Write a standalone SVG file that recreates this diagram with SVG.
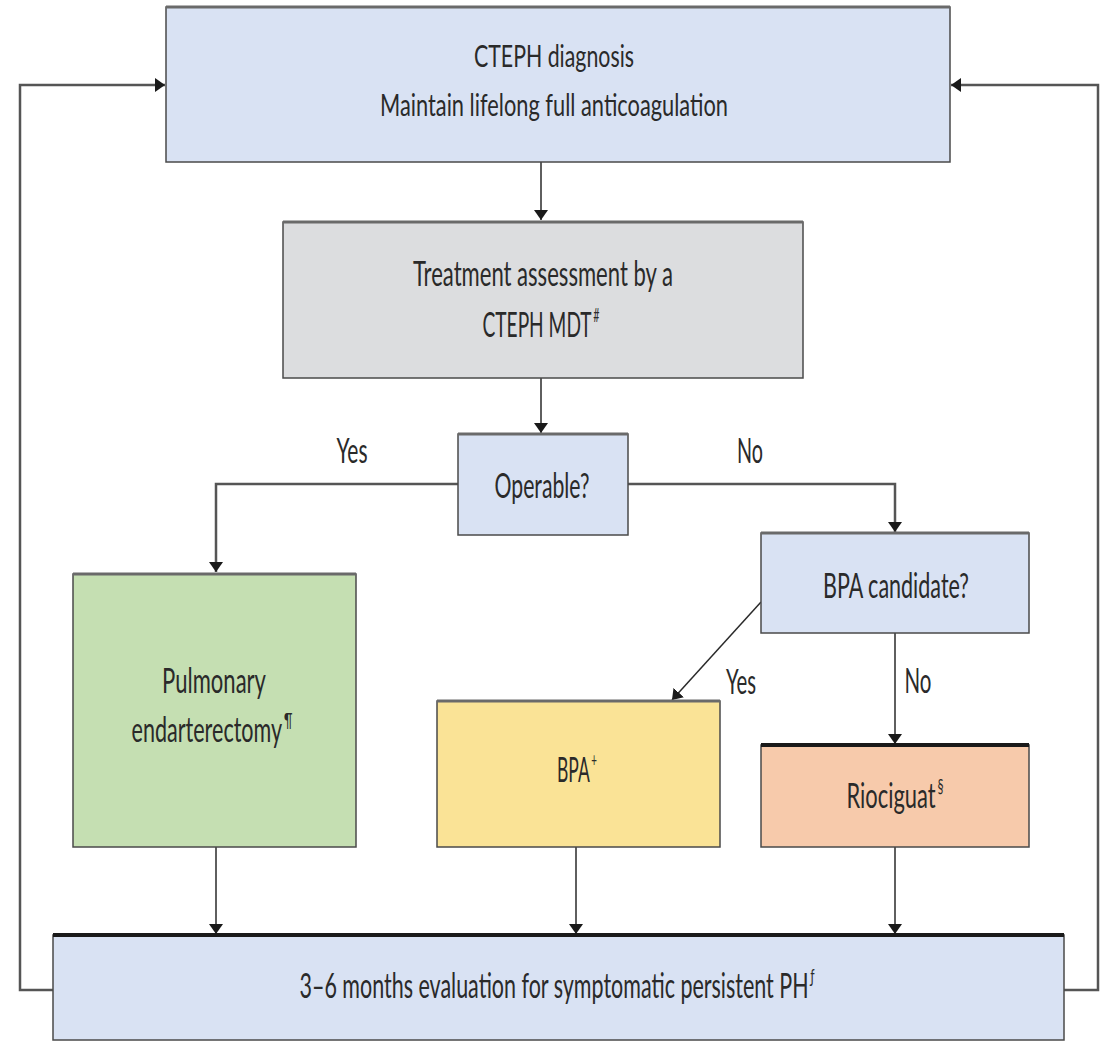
<svg xmlns="http://www.w3.org/2000/svg" width="1106" height="1043" viewBox="0 0 1106 1043">
  <defs>
    <marker id="arrow" viewBox="0 0 10 14" refX="10" refY="7" markerWidth="10" markerHeight="14" markerUnits="userSpaceOnUse" orient="auto">
      <path d="M0,0 L10,7 L0,14 Z" fill="#1a1a1a"/>
    </marker>
    <style>
      .box { stroke: #4a4a4a; stroke-width: 1.5; }
      .blue { fill: #d9e2f3; }
      .grey { fill: #dcdddf; }
      .green { fill: #c5dfb2; }
      .yellow { fill: #fae396; }
      .salmon { fill: #f7caab; }
      .topline { stroke: #6a6a6a; stroke-width: 3; }
      .topdark { stroke: #1a1a1a; stroke-width: 4; }
      .lbl { font-family: Lato, "Open Sans", "Liberation Sans", sans-serif; font-size: 34px; fill: #2a2a2a; text-anchor: middle; }
      .sm { font-size: 31px; }
      .sup { font-size: 19px; }
      .conn { fill: none; stroke: #2a2a2a; stroke-width: 1.5; }
      .thick { stroke: #555; stroke-width: 2.5; }
    </style>
  </defs>

  <rect width="1106" height="1043" fill="#ffffff"/>

  <!-- connectors -->
  <g id="connectors">
    <line class="conn" x1="541" y1="162" x2="541" y2="220" marker-end="url(#arrow)"/>
    <line class="conn" x1="541" y1="378" x2="541" y2="433" marker-end="url(#arrow)"/>
    <polyline class="conn thick" points="458,484 216,484 216,572" marker-end="url(#arrow)"/>
    <polyline class="conn thick" points="628,484 895,484 895,532" marker-end="url(#arrow)"/>
    <line class="conn" x1="761" y1="602" x2="672" y2="700" marker-end="url(#arrow)"/>
    <line class="conn" x1="895" y1="633" x2="895" y2="744" marker-end="url(#arrow)"/>
    <line class="conn" x1="216" y1="847" x2="216" y2="934" marker-end="url(#arrow)"/>
    <line class="conn" x1="576" y1="847" x2="576" y2="934" marker-end="url(#arrow)"/>
    <line class="conn" x1="895" y1="847" x2="895" y2="934" marker-end="url(#arrow)"/>
    <polyline class="conn thick" points="53,990 20,990 20,85 165,85" marker-end="url(#arrow)"/>
    <polyline class="conn thick" points="1064,990 1098,990 1098,85 951,85" marker-end="url(#arrow)"/>
    <!-- branch labels -->
    <text class="lbl" x="352" y="463" textLength="31" lengthAdjust="spacingAndGlyphs">Yes</text>
    <text class="lbl" x="750" y="463" textLength="26" lengthAdjust="spacingAndGlyphs">No</text>
    <text class="lbl" x="741" y="694" textLength="30" lengthAdjust="spacingAndGlyphs">Yes</text>
    <text class="lbl" x="918" y="693" textLength="27" lengthAdjust="spacingAndGlyphs">No</text>
  </g>

  <!-- nodes -->
  <g id="diagnosis">
    <rect class="box blue" x="166" y="7" width="784" height="155"/>
    <line class="topline" x1="166" y1="7" x2="950" y2="7"/>
    <text class="lbl sm" x="554" y="67" textLength="160" lengthAdjust="spacingAndGlyphs">CTEPH diagnosis</text>
    <text class="lbl sm" x="554" y="116" textLength="348" lengthAdjust="spacingAndGlyphs">Maintain lifelong full anticoagulation</text>
  </g>

  <g id="assessment">
    <rect class="box grey" x="283" y="222" width="520" height="156"/>
    <line class="topline" x1="283" y1="222" x2="803" y2="222"/>
    <text class="lbl" x="543" y="286" textLength="260" lengthAdjust="spacingAndGlyphs">Treatment assessment by a</text>
    <text class="lbl" x="541" y="337" textLength="117" lengthAdjust="spacingAndGlyphs">CTEPH MDT<tspan class="sup" dx="3" dy="-15">#</tspan></text>
  </g>

  <g id="operable">
    <rect class="box blue" x="458" y="434" width="170" height="101"/>
    <line class="topline" x1="458" y1="434" x2="628" y2="434"/>
    <text class="lbl" x="542" y="498" textLength="95" lengthAdjust="spacingAndGlyphs">Operable?</text>
  </g>

  <g id="bpa-candidate">
    <rect class="box blue" x="761" y="533" width="268" height="100"/>
    <line class="topline" x1="761" y1="533" x2="1029" y2="533"/>
    <text class="lbl" x="896" y="598" textLength="146" lengthAdjust="spacingAndGlyphs">BPA candidate?</text>
  </g>

  <g id="pea">
    <rect class="box green" x="73" y="574" width="283" height="273"/>
    <line class="topline" x1="73" y1="574" x2="356" y2="574"/>
    <text class="lbl" x="214" y="693" textLength="104" lengthAdjust="spacingAndGlyphs">Pulmonary</text>
    <text class="lbl" x="212" y="742" textLength="161" lengthAdjust="spacingAndGlyphs">endarterectomy<tspan class="sup" dx="3" dy="-15">¶</tspan></text>
  </g>

  <g id="bpa">
    <rect class="box yellow" x="437" y="701" width="283" height="146"/>
    <line class="topline" x1="437" y1="701" x2="720" y2="701"/>
    <text class="lbl" x="577" y="782" textLength="40" lengthAdjust="spacingAndGlyphs">BPA<tspan class="sup" dx="3" dy="-15">+</tspan></text>
  </g>

  <g id="riociguat">
    <rect class="box salmon" x="761" y="745" width="268" height="102"/>
    <line class="topdark" x1="761" y1="745" x2="1029" y2="745"/>
    <text class="lbl" x="895" y="808" textLength="97" lengthAdjust="spacingAndGlyphs">Riociguat<tspan class="sup" dx="3" dy="-15">§</tspan></text>
  </g>

  <g id="evaluation">
    <rect class="box blue" x="53" y="935" width="1011" height="105"/>
    <line class="topdark" x1="53" y1="935" x2="1064" y2="935"/>
    <text class="lbl" x="557" y="998" textLength="515" lengthAdjust="spacingAndGlyphs">3–6 months evaluation for symptomatic persistent PH<tspan class="sup" dx="3" dy="-15">ƒ</tspan></text>
  </g>
</svg>
